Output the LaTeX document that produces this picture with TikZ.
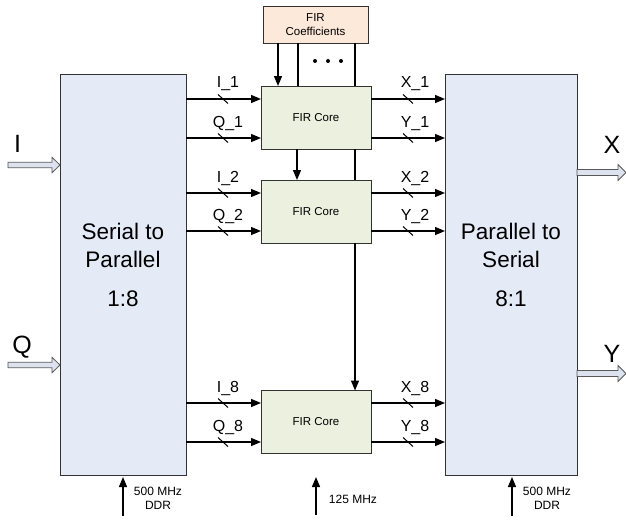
\documentclass[tikz,border=0pt]{standalone}
\usepackage{fontspec}
\setmainfont{Liberation Sans}
\usetikzlibrary{arrows.meta}
\definecolor{blkblue}{RGB}{228,234,246}
\definecolor{coregreen}{RGB}{235,241,222}
\definecolor{coefpeach}{RGB}{252,233,218}
\definecolor{bdr}{RGB}{50,50,50}
\definecolor{dblfill}{RGB}{220,227,238}
\tikzset{
  blk/.style={draw=bdr, fill=blkblue, line width=0.9pt, inner sep=0pt, outer sep=0pt, minimum height=401pt},
  core/.style={draw=bdr, fill=coregreen, line width=0.9pt, inner sep=0pt, outer sep=0pt, minimum width=110pt, minimum height=63pt, font=\fontsize{11.5}{13}\selectfont},
  coef/.style={draw=bdr, fill=coefpeach, line width=0.9pt, inner sep=0pt, outer sep=0pt, minimum width=105pt, minimum height=37pt, align=center, font=\fontsize{11.5}{13.5}\selectfont},
  sig/.style={line width=1.3pt, -{Triangle[length=10pt,width=8pt]}},
  plain/.style={line width=1.3pt},
  slash/.style={line width=1pt},
  lab/.style={font=\fontsize{16}{18}\selectfont, anchor=base, inner sep=0pt},
  big/.style={font=\fontsize{22.5}{28}\selectfont, anchor=base, inner sep=0pt},
  huge/.style={font=\fontsize{25}{28}\selectfont, anchor=base, inner sep=0pt},
  clk/.style={font=\fontsize{12}{14}\selectfont, align=center, inner sep=0pt},
  dbl/.style={draw=black!65, fill=dblfill, line width=0.8pt, line join=miter},
}
\begin{document}
\begin{tikzpicture}[x=1pt,y=-1pt]
\useasboundingbox (0,0) rectangle (626,519);
% blocks
\node[blk, minimum width=126pt] (L) at (123,274.5) {};
\node[blk, minimum width=132pt] (R) at (511,274.5) {};
\node[big] (lt1) at (123,239) {Serial to};
\node[big] (lt2) at (123,267) {Parallel};
\node[big] (lt3) at (123,306) {1:8};
\node[big] (rt1) at (511,239) {Parallel to};
\node[big] (rt2) at (511,267) {Serial};
\node[big] (rt3) at (511,306) {8:1};
% coefficient box and cores
\node[coef] (CF) at (315.5,24.5) {FIR\\Coefficients};
\node[core] (C1) at (316,117.5) {FIR Core};
\node[core] (C2) at (316,211.5) {FIR Core};
\node[core] (C8) at (316,422) {FIR Core};
% coefficient lines
\draw[sig] (CF.south -| 278,0) -- (C1.north -| 278,0);
\draw[plain] (CF.south -| 298,0) -- (C1.north -| 298,0);
\draw[plain] (CF.south -| 355,0) -- (C1.north -| 355,0);
\fill (315,61) circle (2pt) (328,61) circle (2pt) (341,61) circle (2pt);
\draw[sig] (C1.south -| 297,0) -- (C2.north -| 297,0);
\draw[plain] (C1.south -| 355,0) -- (C2.north -| 355,0);
\draw[sig] (C2.south -| 355,0) -- (C8.north -| 355,0);
% input signal lines
\foreach \yy/\lab in {99/I\_1,138/Q\_1,193/I\_2,231/Q\_2,403/I\_8,442/Q\_8}{
  \draw[sig] (L.east |- 0,\yy) -- (C1.west |- 0,\yy);
  \draw[slash] (218,\yy-4.5) -- (228,\yy+4.5);
  \node[lab] at (228,\yy-11) {\lab};
}
% output signal lines
\foreach \yy/\lab in {99/X\_1,138/Y\_1,193/X\_2,231/Y\_2,403/X\_8,442/Y\_8}{
  \draw[sig] (C1.east |- 0,\yy) -- (R.west |- 0,\yy);
  \draw[slash] (403,\yy-4.5) -- (413,\yy+4.5);
  \node[lab] at (415,\yy-11) {\lab};
}
% I/Q inputs
\draw[dbl] (8,162.3) -- (52,162.3) -- (52,157.3) -- (60,165) -- (52,172.7) -- (52,167.7) -- (8,167.7) -- cycle;
\draw[dbl] (8,362.3) -- (52,362.3) -- (52,357.3) -- (60,365) -- (52,372.7) -- (52,367.7) -- (8,367.7) -- cycle;
\node[huge] (Il) at (17.5,152) {I};
\node[huge] (Ql) at (22,353) {Q};
% X/Y outputs
\draw[dbl] (577,169.5) -- (618,169.5) -- (618,164.5) -- (626,172.5) -- (618,180.5) -- (618,175.5) -- (577,175.5) -- cycle;
\draw[dbl] (577,370.5) -- (618,370.5) -- (618,365.5) -- (626,373.5) -- (618,381.5) -- (618,376.5) -- (577,376.5) -- cycle;
\node[huge] (Xl) at (612,153) {X};
\node[huge] (Yl) at (612,362) {Y};
% clocks
\coordinate (k1) at (123,516);
\coordinate (k2) at (316,515);
\coordinate (k3) at (512,516);
\draw[sig] (k1) -- (123,477);
\draw[sig] (k2) -- (316,477);
\draw[sig] (k3) -- (512,477);
\node[clk] (kl1) at (158,498) {500 MHz\\DDR};
\node[clk] (kl2) at (353,499) {125 MHz};
\node[clk] (kl3) at (547,498) {500 MHz\\DDR};
\end{tikzpicture}
\end{document}
